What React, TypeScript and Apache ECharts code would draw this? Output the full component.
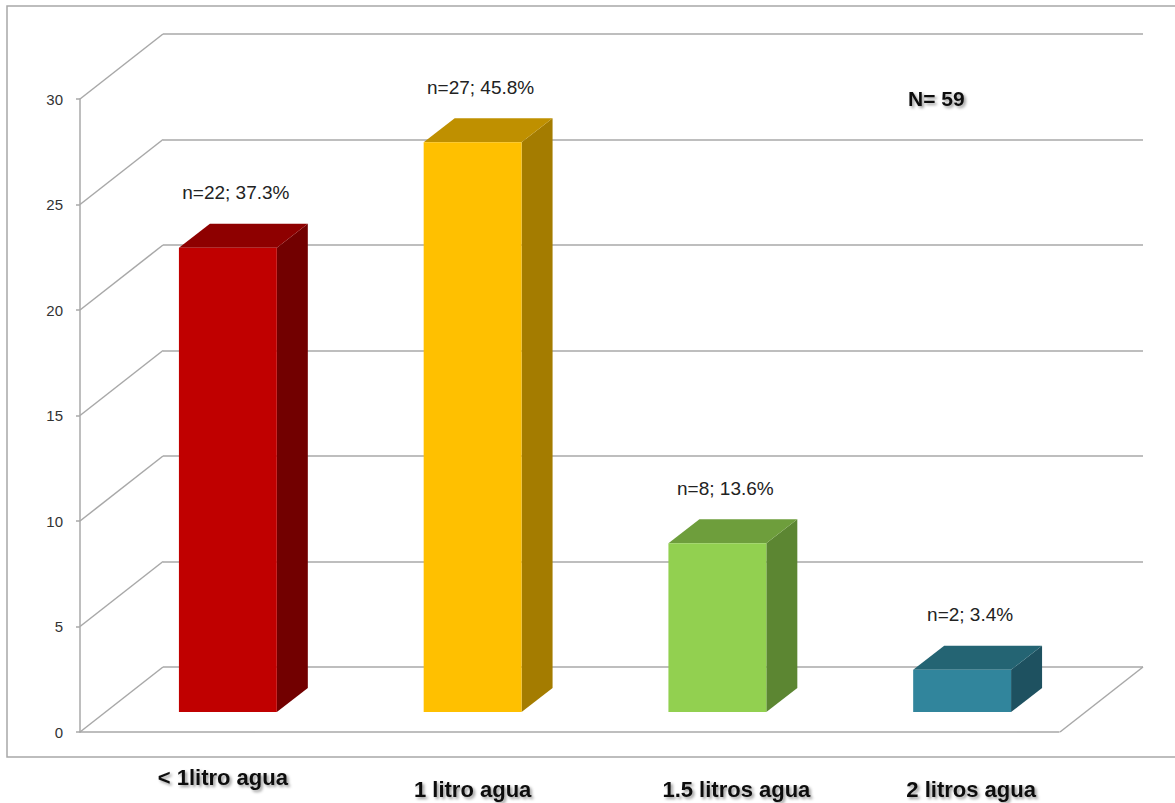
import React, { useEffect, useRef } from "react";
import * as echarts from "echarts";

// Daily water intake groups, counts and shares of the sample
const categories = ["< 1litro agua", "1 litro agua", "1.5 litros agua", "2 litros agua"];
const counts = [22, 27, 8, 2];
const percents = [37.3, 45.8, 13.6, 3.4];
const totalN = 59;
const valueTicks = [0, 5, 10, 15, 20, 25, 30];

// Face colours of each 3D column: front, top, right side
const frontColors = ["#C00000", "#FFC000", "#92D050", "#31859C"];
const topColors = ["#8E0000", "#BF9000", "#6E9E3C", "#246473"];
const sideColors = ["#720000", "#A47C00", "#5C8632", "#1E5160"];

const FONT = "'Liberation Sans', Arial, sans-serif";
const GRID_COLOR = "#a8a8a8";
// Offset from the back wall to the front edge of the floor
const WALL_DX = -83;
const WALL_DY = 65;
// Depth of each column
const BAR_DX = 31;
const BAR_DY = -24;

const catLabelStyle = {
  fontFamily: FONT,
  fontSize: 22,
  fontWeight: "bold",
  color: "#111",
  textShadowColor: "rgba(0,0,0,0.4)",
  textShadowBlur: 3,
  textShadowOffsetX: 2,
  textShadowOffsetY: 2,
};

export default function App() {
  const ref = useRef<HTMLDivElement>(null);

  useEffect(() => {
    if (!ref.current) return;
    const chart = echarts.init(ref.current, undefined, { renderer: "svg" });

    const option: any = {
      animation: false,
      backgroundColor: "#ffffff",
      title: {
        text: `N= ${totalN}`,
        left: 903,
        top: 83,
        textStyle: {
          fontFamily: FONT,
          fontSize: 21,
          fontWeight: "bold",
          color: "#111",
          textShadowColor: "rgba(0,0,0,0.4)",
          textShadowBlur: 3,
          textShadowOffsetX: 2,
          textShadowOffsetY: 2,
        },
      },
      graphic: [
        {
          type: "rect",
          shape: { x: 7, y: 6, width: 1190, height: 751 },
          style: { fill: "none", stroke: GRID_COLOR, lineWidth: 1.5 },
          silent: true,
        },
      ],
      grid: [
        // back wall
        { left: 163, right: 32, top: 34, bottom: 136 },
        // front edge of the floor, carries the value axis
        { left: 80, right: 116, top: 99, bottom: 71 },
        // plane of the column faces
        { left: 105.5, right: 90.5, top: 79, bottom: 91 },
      ],
      xAxis: [
        { type: "category", gridIndex: 0, data: categories, show: false },
        {
          type: "category",
          gridIndex: 1,
          data: categories,
          axisLine: { show: true, lineStyle: { color: GRID_COLOR, width: 1.5 } },
          axisTick: { show: false },
          axisLabel: { show: false },
          splitLine: { show: false },
        },
        {
          type: "category",
          gridIndex: 2,
          data: categories,
          axisLine: { show: false },
          axisTick: { show: false },
          splitLine: { show: false },
          axisLabel: {
            margin: 54,
            formatter: (v: string, i: number) => `{c${i}|${v}}`,
            rich: {
              c0: { ...catLabelStyle, padding: [0, 10, 0, 0] },
              c1: { ...catLabelStyle, padding: [12, 0, 0, 0] },
              c2: { ...catLabelStyle, padding: [12, 0, 0, 38] },
              c3: { ...catLabelStyle, padding: [12, 0, 0, 18] },
            },
          },
        },
      ],
      yAxis: [
        {
          type: "value",
          gridIndex: 0,
          min: 0,
          max: 30,
          interval: 5,
          axisLine: { show: false },
          axisTick: { show: false },
          axisLabel: { show: false },
          splitLine: { show: true, lineStyle: { color: GRID_COLOR, width: 1.5 } },
        },
        {
          type: "value",
          gridIndex: 1,
          min: 0,
          max: 30,
          interval: 5,
          axisLine: { show: true, lineStyle: { color: GRID_COLOR, width: 1.5 } },
          axisTick: { show: true, length: 4, lineStyle: { color: GRID_COLOR, width: 1.5 } },
          axisLabel: { margin: 17, fontFamily: FONT, fontSize: 15, color: "#333" },
          splitLine: { show: false },
        },
        { type: "value", gridIndex: 2, min: 0, max: 30, show: false, splitLine: { show: false } },
      ],
      series: [
        {
          // left wall and right floor edge
          type: "custom",
          xAxisIndex: 0,
          yAxisIndex: 0,
          z: 1,
          silent: true,
          data: valueTicks.map((v) => [0, v]),
          renderItem: (params: any, api: any) => {
            const v = api.value(1);
            const p = api.coord([0, v]);
            const left = p[0] - api.size([1, 0])[0] / 2;
            const children: any[] = [
              {
                type: "line",
                shape: { x1: left, y1: p[1], x2: left + WALL_DX, y2: p[1] + WALL_DY },
                style: { stroke: GRID_COLOR, lineWidth: 1.5 },
              },
            ];
            if (v === 0) {
              const r = api.coord([categories.length - 1, 0]);
              const right = r[0] + api.size([1, 0])[0] / 2;
              children.push({
                type: "line",
                shape: { x1: right, y1: r[1], x2: right + WALL_DX, y2: r[1] + WALL_DY },
                style: { stroke: GRID_COLOR, lineWidth: 1.5 },
              });
            }
            return { type: "group", children };
          },
        },
        {
          // 3D columns
          type: "custom",
          xAxisIndex: 2,
          yAxisIndex: 2,
          z: 5,
          data: counts.map((c, i) => [i, c]),
          renderItem: (params: any, api: any) => {
            const i = params.dataIndex;
            const idx = api.value(0);
            const v = api.value(1);
            const top = api.coord([idx, v]);
            const base = api.coord([idx, 0]);
            const w = api.size([1, 0])[0] * 0.4;
            const x0 = top[0] - w / 2;
            const x1 = top[0] + w / 2;
            const yT = top[1];
            const yB = base[1];
            return {
              type: "group",
              children: [
                {
                  type: "polygon",
                  shape: {
                    points: [
                      [x1, yT],
                      [x1 + BAR_DX, yT + BAR_DY],
                      [x1 + BAR_DX, yB + BAR_DY],
                      [x1, yB],
                    ],
                  },
                  style: { fill: sideColors[i] },
                },
                {
                  type: "polygon",
                  shape: {
                    points: [
                      [x0, yT],
                      [x0 + BAR_DX, yT + BAR_DY],
                      [x1 + BAR_DX, yT + BAR_DY],
                      [x1, yT],
                    ],
                  },
                  style: { fill: topColors[i] },
                },
                {
                  type: "rect",
                  shape: { x: x0, y: yT, width: w, height: yB - yT },
                  style: { fill: frontColors[i] },
                },
                {
                  type: "text",
                  x: top[0] + 8,
                  y: yT + BAR_DY - 31,
                  style: {
                    text: `n=${counts[i]}; ${percents[i]}%`,
                    fontFamily: FONT,
                    fontSize: 19,
                    fill: "#222",
                    align: "center",
                    verticalAlign: "middle",
                  },
                },
              ],
            };
          },
        },
      ],
    };

    chart.setOption(option);
    return () => chart.dispose();
  }, []);

  return (
    <div
      ref={ref}
      style={{ position: "fixed", left: 0, top: 0, width: 1175, height: 803, background: "#fff" }}
    />
  );
}
